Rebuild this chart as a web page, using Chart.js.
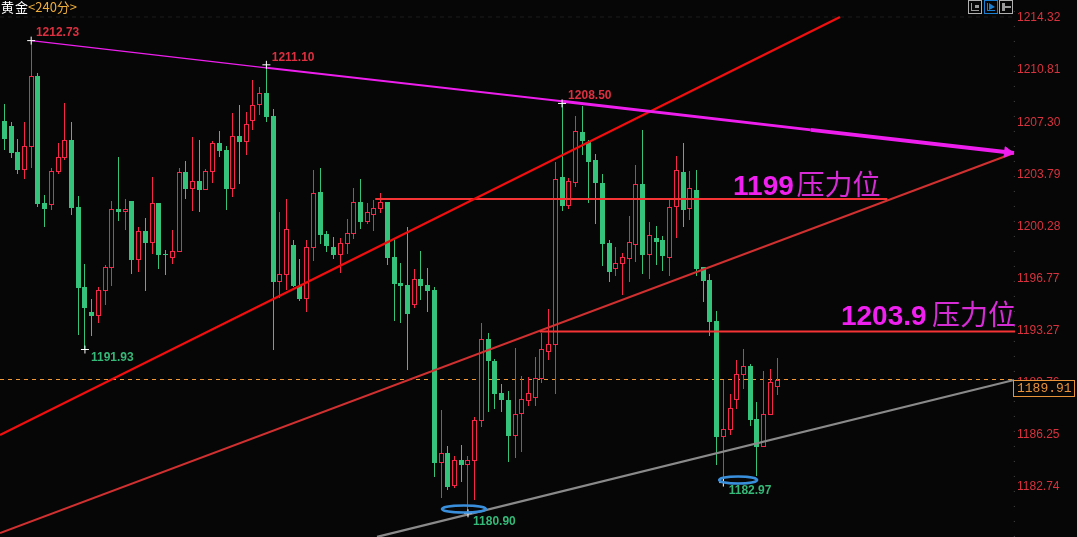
<!DOCTYPE html>
<html lang="en">

<head>
    <meta charset="UTF-8">
    <title>黄金 240分</title>
    <script src="https://cdn.jsdelivr.net/npm/chart.js"></script>
    <style>
        body {
            margin: 0;
            padding: 0;
            background-color: #060606;
            overflow: hidden;
        }

        #goldChart {
            display: block;
        }
    </style>
</head>

<body>
    <canvas id="goldChart" width="1077" height="537"></canvas>

    <script>
        // Candles, oldest first
        const opens = [
            1207.32, 1206.98, 1205.23, 1204.04, 1205.59, 1210.35, 1201.80, 1201.68, 1203.91, 1204.85,
            1206.04, 1201.53, 1196.14, 1194.46, 1194.21, 1195.89, 1197.44, 1201.39, 1201.21, 1201.93,
            1197.98, 1199.91, 1199.12, 1201.80, 1198.36, 1198.11, 1198.52, 1203.88, 1202.76, 1203.28,
            1202.69, 1203.91, 1205.83, 1205.36, 1202.76, 1206.31, 1205.92, 1207.34, 1208.37, 1209.20,
            1207.65, 1196.50, 1196.97, 1198.96, 1196.20, 1195.33, 1198.79, 1202.53, 1199.71, 1198.83,
            1198.31, 1199.05, 1199.73, 1201.84, 1200.54, 1201.01, 1201.41, 1201.86, 1198.16, 1196.41,
            1196.27, 1194.95, 1196.68, 1196.27, 1195.94, 1184.31, 1184.96, 1182.74, 1184.49, 1184.18,
            1184.45, 1187.14, 1192.64, 1191.16, 1189.00, 1188.53, 1186.13, 1187.61, 1188.46, 1188.69,
            1189.95, 1191.79, 1192.26, 1203.54, 1201.59, 1203.14, 1206.57, 1205.90, 1204.69, 1203.14,
            1199.10, 1197.35, 1197.69, 1198.04, 1198.99, 1203.07, 1198.29, 1199.44, 1199.30, 1198.11,
            1201.55, 1203.88, 1201.41, 1202.67, 1197.48, 1196.61, 1193.85, 1186.04, 1186.51, 1188.55,
            1190.21, 1190.82, 1187.25, 1185.36, 1187.52, 1189.40
        ];
        const highs = [
            1208.46, 1207.25, 1206.08, 1207.25, 1212.73, 1210.53, 1202.31, 1204.13, 1205.81, 1208.51,
            1207.25, 1202.27, 1197.69, 1195.33, 1196.14, 1197.60, 1201.93, 1204.89, 1202.06, 1201.93,
            1200.16, 1200.79, 1203.55, 1201.80, 1198.63, 1199.98, 1204.15, 1204.62, 1206.24, 1206.04,
            1204.08, 1205.97, 1206.64, 1205.63, 1207.85, 1208.39, 1207.92, 1210.05, 1209.60, 1211.10,
            1208.12, 1201.19, 1202.06, 1199.30, 1198.02, 1199.30, 1204.02, 1204.15, 1199.91, 1199.50,
            1199.44, 1200.72, 1202.80, 1203.41, 1201.79, 1202.00, 1202.47, 1201.86, 1199.30, 1197.75,
            1200.18, 1197.35, 1198.56, 1197.42, 1196.14, 1187.86, 1185.43, 1184.76, 1185.50, 1184.76,
            1187.39, 1193.72, 1193.04, 1191.29, 1189.61, 1189.14, 1192.03, 1190.15, 1190.08, 1191.43,
            1193.02, 1194.66, 1204.55, 1208.50, 1203.48, 1207.65, 1208.33, 1206.04, 1205.09, 1203.74,
            1199.30, 1198.83, 1198.40, 1200.92, 1204.35, 1206.71, 1200.51, 1200.24, 1199.57, 1202.00,
            1204.96, 1205.84, 1203.95, 1204.02, 1197.48, 1197.01, 1194.52, 1189.88, 1188.93, 1191.22,
            1191.96, 1190.95, 1188.39, 1190.48, 1190.62, 1191.36
        ];
        const lows = [
            1205.36, 1204.83, 1203.75, 1203.41, 1204.17, 1201.53, 1200.18, 1201.32, 1203.75, 1204.69,
            1200.99, 1192.91, 1191.93, 1192.84, 1193.72, 1194.93, 1196.21, 1200.58, 1199.98, 1197.01,
            1197.15, 1195.87, 1198.36, 1197.35, 1196.95, 1197.69, 1198.49, 1202.06, 1201.25, 1201.19,
            1202.67, 1203.14, 1204.89, 1201.32, 1202.20, 1203.07, 1205.03, 1206.71, 1207.72, 1207.25,
            1191.89, 1195.40, 1195.93, 1196.14, 1195.19, 1194.45, 1197.89, 1199.03, 1198.49, 1198.02,
            1197.08, 1198.36, 1199.37, 1200.04, 1200.38, 1199.91, 1201.12, 1197.62, 1193.85, 1193.71,
            1190.55, 1194.72, 1195.26, 1194.45, 1183.35, 1181.93, 1182.47, 1182.61, 1183.01, 1180.90,
            1181.80, 1186.71, 1187.72, 1187.93, 1187.72, 1184.36, 1184.63, 1185.03, 1188.13, 1188.13,
            1189.68, 1191.23, 1188.94, 1201.28, 1201.39, 1202.87, 1205.03, 1201.79, 1200.38, 1197.55,
            1196.47, 1196.88, 1195.60, 1196.47, 1197.82, 1197.01, 1196.68, 1197.62, 1197.21, 1196.88,
            1199.44, 1200.18, 1200.65, 1196.90, 1195.13, 1192.84, 1184.15, 1182.97, 1186.17, 1187.92,
            1189.27, 1186.78, 1183.41, 1185.36, 1187.52, 1188.87
        ];
        const closes = [
            1206.10, 1205.16, 1204.02, 1205.61, 1210.32, 1201.73, 1201.39, 1203.93, 1204.87, 1206.02,
            1201.46, 1196.07, 1194.73, 1194.19, 1195.91, 1197.49, 1201.37, 1201.19, 1201.37, 1197.96,
            1199.89, 1199.10, 1201.77, 1198.29, 1198.29, 1198.54, 1203.86, 1202.74, 1203.25, 1202.67,
            1203.93, 1205.81, 1205.30, 1202.74, 1206.28, 1205.90, 1207.09, 1208.37, 1209.18, 1207.58,
            1196.47, 1196.99, 1200.02, 1196.20, 1195.33, 1198.81, 1202.44, 1199.64, 1198.90, 1198.29,
            1199.08, 1199.75, 1201.84, 1200.51, 1201.16, 1201.43, 1201.84, 1198.09, 1196.34, 1196.20,
            1194.32, 1196.65, 1196.20, 1195.87, 1184.29, 1184.94, 1182.67, 1184.49, 1184.15, 1184.49,
            1187.16, 1192.62, 1191.16, 1188.94, 1188.53, 1186.11, 1187.57, 1188.58, 1188.98, 1189.99,
            1191.94, 1192.28, 1203.39, 1201.59, 1203.27, 1206.64, 1205.97, 1204.55, 1203.14, 1199.03,
            1197.15, 1197.75, 1198.15, 1199.14, 1203.05, 1198.29, 1199.62, 1199.17, 1198.22, 1201.53,
            1204.02, 1201.32, 1202.78, 1197.35, 1196.54, 1193.78, 1186.04, 1186.58, 1187.97, 1190.26,
            1190.82, 1187.18, 1185.36, 1187.59, 1189.72, 1189.91
        ];

        // Price axis
        const tickValues = [1214.32, 1210.81, 1207.30, 1203.79, 1200.28, 1196.77, 1193.27, 1189.76, 1186.25, 1182.74];
        const lastPrice = 1189.91;

        // Drawn lines, as [candle index, price]
        const magentaLine = [[4, 1212.73], [39, 1210.90], [83, 1208.64], [120, 1206.72], [150.25, 1205.16]];
        const arrowHead = [[149.3, 1205.21]];
        const channelUpper = [[-0.64, 1186.17], [124.36, 1214.32]];
        const channelMiddle = [[-0.64, 1179.57], [150.25, 1205.16]];
        const channelLower = [[55.46, 1179.31], [150.25, 1189.88]];
        const resistance1 = [[55.2, 1202.06], [131.4, 1202.06]];
        const resistance2 = [[79.7, 1193.15], [150.4, 1193.15]];
        const axisEdge = [[150.3, 1179.31], [150.3, 1215.46]];

        // Marked highs and lows
        const extremeX = [4, 39, 83, 12, 69, 107];
        const extremeY = [1212.73, 1211.10, 1208.50, 1191.93, 1180.90, 1182.97];
        const extremeLabelX = [4.7, 39.8, 83.9, 12.9, 69.75, 107.8];
        const extremeLabelY = [1213.24, 1211.56, 1209.0, 1191.36, 1180.31, 1182.4];

        // Circled lows
        const ringX = [68.4, 109.2];
        const ringY = [1181.19, 1183.14];

        const BG = '#060606';
        const RED = '#f5264a';
        const GREEN = '#35c37b';
        const MAGENTA = '#f020f0';

        const toPoints = arr => arr.map(p => ({ x: p[0], y: p[1] }));
        const isUp = i => closes[i] >= opens[i];
        const idx = opens.map((_, i) => i);
        const magentaWidths = [1.2, 2, 3, 4];

        function lineSet(points, color, width, order) {
            return {
                type: 'line',
                data: toPoints(points),
                borderColor: color,
                borderWidth: width,
                pointRadius: 0,
                order: order
            };
        }

        // Snap candles to whole pixels, the original is drawn without anti-aliasing
        const snapCandles = {
            id: 'snapCandles',
            afterDatasetsUpdate(chart) {
                chart.data.datasets.forEach((ds, i) => {
                    if (ds.type !== 'bar') return;
                    chart.getDatasetMeta(i).data.forEach(el => {
                        el.x = Math.floor(el.x) + 0.5;
                        el.y = Math.round(el.y);
                        el.base = Math.round(el.base);
                        if (el.y === el.base) el.base += 1;
                    });
                });
            }
        };

        // Text, rings, price box and toolbar on top of the chart
        const overlay = {
            id: 'overlay',
            afterDraw(chart) {
                const ctx = chart.ctx;
                const xs = chart.scales.x;
                const ys = chart.scales.y;
                const put = (text, i, p, font, color) => {
                    ctx.font = font;
                    ctx.fillStyle = color;
                    ctx.fillText(text, xs.getPixelForValue(i), ys.getPixelForValue(p));
                };

                ctx.save();

                // circled lows
                ctx.strokeStyle = '#3a8fdc';
                ctx.lineWidth = 2.5;
                ringX.forEach((x, i) => {
                    ctx.beginPath();
                    ctx.ellipse(xs.getPixelForValue(x), ys.getPixelForValue(ringY[i]), i === 0 ? 22 : 19, 3.5, 0, 0, Math.PI * 2);
                    ctx.stroke();
                });

                // high / low values
                ctx.textBaseline = 'middle';
                ctx.textAlign = 'left';
                extremeY.forEach((v, i) => {
                    put(v.toFixed(2), extremeLabelX[i], extremeLabelY[i], 'bold 12px "Liberation Sans"', i < 3 ? '#dc3040' : '#35b878');
                });

                // resistance notes
                ctx.textBaseline = 'alphabetic';
                put('1199', 108.44, 1202.33, 'bold 28px "Liberation Sans"', MAGENTA);
                put('压力位', 117.9, 1202.33, '28px "Noto Sans CJK SC"', '#d52cd5');
                put('1203.9', 124.5, 1193.58, 'bold 28px "Liberation Sans"', MAGENTA);
                put('压力位', 138.05, 1193.58, '28px "Noto Sans CJK SC"', '#d52cd5');

                // header
                ctx.textBaseline = 'middle';
                ctx.font = '13px "Noto Sans CJK SC"';
                ctx.fillStyle = '#ffffff';
                ctx.fillText('黄', 1, 7);
                ctx.fillText('金', 15, 7);
                ctx.fillStyle = '#efae3c';
                ctx.fillText('<240分>', 28, 7);

                // last price box
                ctx.fillStyle = BG;
                ctx.fillRect(1013.5, 380.5, 61, 16);
                ctx.strokeStyle = '#e8923a';
                ctx.lineWidth = 1;
                ctx.strokeRect(1013.5, 380.5, 61, 16);
                ctx.font = '13px "Liberation Mono"';
                ctx.fillStyle = '#e8923a';
                ctx.fillText(lastPrice.toFixed(2), 1017, 389);

                // toolbar buttons
                [[968, '#b0b0b0'], [984, '#1d7fd0'], [999, '#b0b0b0']].forEach(b => {
                    ctx.strokeStyle = b[1];
                    ctx.strokeRect(b[0] + 0.5, 0.5, 13, 13);
                });
                ctx.fillStyle = '#9a9a9a';
                ctx.fillRect(971, 3, 1, 8);
                ctx.fillRect(971, 10, 8, 1);
                ctx.fillRect(975, 5, 4, 3);
                ctx.fillStyle = '#1d7fd0';
                ctx.fillRect(987, 3, 1, 8);
                ctx.fillRect(987, 10, 8, 1);
                ctx.beginPath();
                ctx.moveTo(989, 3);
                ctx.lineTo(995, 7);
                ctx.lineTo(989, 10);
                ctx.fill();
                ctx.fillStyle = '#9a9a9a';
                ctx.fillRect(1002, 3, 3, 8);
                ctx.fillRect(1005, 6, 6, 2);

                ctx.restore();
            }
        };

        const ctx = document.getElementById('goldChart').getContext('2d');
        new Chart(ctx, {
            data: {
                datasets: [
                    // wicks
                    {
                        type: 'bar',
                        data: idx.map(i => ({ x: i, y: [lows[i], highs[i]] })),
                        backgroundColor: idx.map(i => isUp(i) ? RED : GREEN),
                        barThickness: 1,
                        grouped: false,
                        inflateAmount: 0,
                        order: 8
                    },
                    // bodies, rising candles are hollow
                    {
                        type: 'bar',
                        data: idx.map(i => ({ x: i, y: [opens[i], closes[i]] })),
                        backgroundColor: idx.map(i => isUp(i) ? BG : GREEN),
                        borderColor: idx.map(i => isUp(i) ? RED : GREEN),
                        borderWidth: 1,
                        borderSkipped: false,
                        barThickness: 5,
                        grouped: false,
                        inflateAmount: 0,
                        order: 7
                    },
                    Object.assign(lineSet([[-0.64, lastPrice], [150.4, lastPrice]], '#f29a3a', 1, 9), { borderDash: [4, 4] }),
                    Object.assign(lineSet([[-0.64, tickValues[0]], [150.4, tickValues[0]]], '#1c1c1c', 1, 10), { borderDash: [4, 4] }),
                    Object.assign(lineSet(axisEdge, '#4a4a4a', 1, 10), { borderDash: [1, 14] }),
                    lineSet(channelLower, '#8a8a8a', 2.2, 5),
                    lineSet(channelMiddle, '#d03030', 2.2, 4),
                    lineSet(channelUpper, '#f00e0e', 2.4, 3),
                    lineSet(resistance1, '#f53535', 2, 3),
                    lineSet(resistance2, '#f53535', 2, 3),
                    Object.assign(lineSet(magentaLine, '#ee1fee', 1, 2), {
                        segment: { borderWidth: c => magentaWidths[c.p0DataIndex] }
                    }),
                    {
                        type: 'scatter',
                        data: toPoints(arrowHead),
                        pointStyle: 'triangle',
                        pointRadius: 6,
                        pointRotation: 96.5,
                        pointBackgroundColor: '#ee1fee',
                        pointBorderColor: '#ee1fee',
                        clip: false,
                        order: 1
                    },
                    {
                        type: 'scatter',
                        data: extremeX.map((x, i) => ({ x: x, y: extremeY[i] })),
                        pointStyle: 'cross',
                        pointRadius: 4,
                        pointBorderColor: '#ffffff',
                        pointBorderWidth: 1,
                        clip: false,
                        order: 1
                    }
                ]
            },
            plugins: [snapCandles, overlay],
            options: {
                responsive: false,
                animation: false,
                layout: { padding: 0, autoPadding: false },
                plugins: {
                    legend: { display: false },
                    tooltip: { enabled: false }
                },
                scales: {
                    x: {
                        type: 'linear',
                        offset: false,
                        min: -0.64,
                        max: 150.4,
                        display: false
                    },
                    y: {
                        position: 'right',
                        min: 1179.305,
                        max: 1215.465,
                        afterBuildTicks: axis => {
                            axis.ticks = tickValues.map(v => ({ value: v }));
                        },
                        // plot runs the full height, no room kept for the tick labels
                        afterFit: axis => {
                            axis.width = 62;
                            axis.paddingTop = 0;
                            axis.paddingBottom = 0;
                        },
                        grid: { display: false, drawTicks: false },
                        border: { display: false },
                        ticks: {
                            autoSkip: false,
                            padding: 2,
                            labelOffset: 1,
                            color: '#d8323e',
                            font: { family: '"Liberation Sans"', size: 12 },
                            callback: v => v.toFixed(2)
                        }
                    }
                }
            }
        });
    </script>

</body>

</html>
